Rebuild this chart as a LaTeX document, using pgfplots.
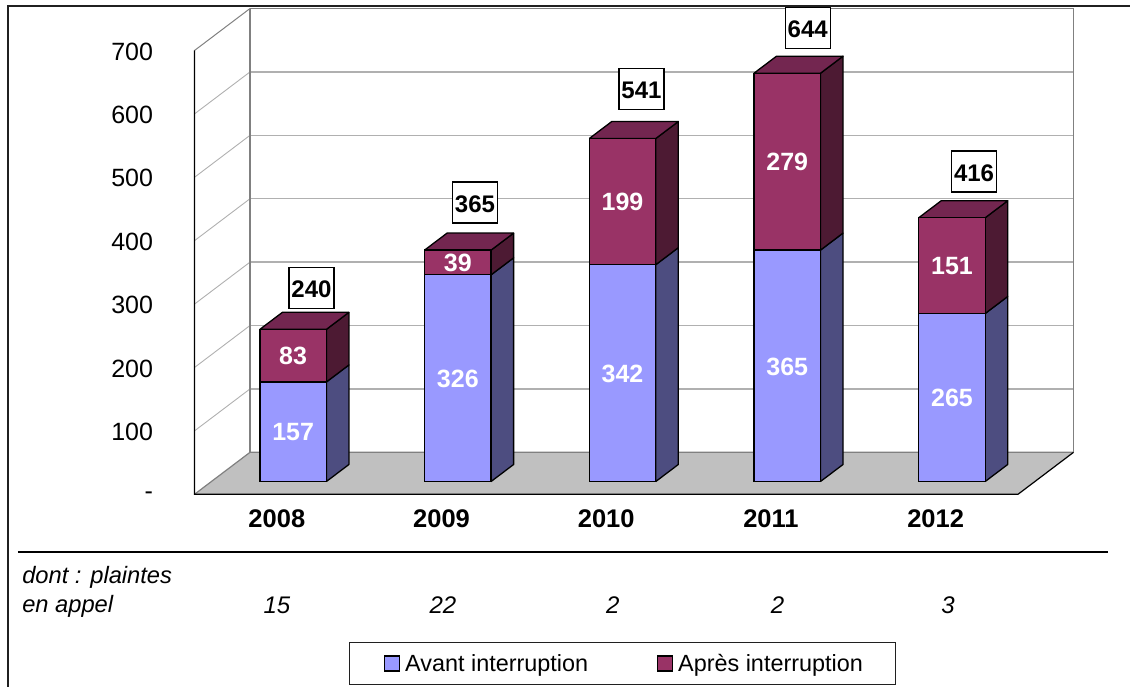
\documentclass[border=0pt]{standalone}
\usepackage{pgfplots}
\pgfplotsset{compat=1.18}
\usepackage{fontspec}
\setmainfont{Liberation Sans}
\definecolor{avant}{HTML}{9999FF}
\definecolor{avantside}{HTML}{4D4D80}
\definecolor{apres}{HTML}{993366}
\definecolor{apresside}{HTML}{4D1A33}
\definecolor{aprestop}{HTML}{732650}
\definecolor{floorgrey}{HTML}{C0C0C0}
\definecolor{wallgrey}{HTML}{B0B0B0}
\definecolor{edgegrey}{HTML}{808080}
\definecolor{framedark}{HTML}{202020}

% Shared geometry of the five-category plane
\pgfplotsset{
  plane/.style={
    scale only axis, width=823.5pt, height=443.8pt,
    xmin=-0.5, xmax=4.5, ymin=0, ymax=700, clip=false,
  },
  face/.style={draw=black, line width=1.3pt, line join=round, fill=#1, mark=none},
  swatch/.style={
    legend image code/.code={
      \path[draw=none, fill=none] (-4pt,0pt) -- (19pt,0pt);
      \draw[draw=black, line width=1.2pt, fill=#1] (0pt,-7.5pt) rectangle (15pt,7.5pt);
    }
  },
}

\begin{document}
\begin{tikzpicture}
\path[use as bounding box] (0pt,0pt) rectangle (1130pt,687pt);

% Walls, floor, outer rules and the row under the chart
\begin{axis}[
  plane, at={(194.5pt,192.7pt)}, anchor=south west,
  axis line style={draw=none}, tick style={draw=none},
  ytick={0,100,200,300,400,500,600,700},
  yticklabels={{-\hspace{30pt}},100,200,300,400,500,600,700},
  yticklabel style={font=\fontsize{25}{28}\selectfont, anchor=east, xshift=-38pt, yshift=-1pt},
  xtick={0,1,2,3,4},
  xticklabels={2008,2009,2010,2011,2012},
  xticklabel style={font=\fontsize{25.5}{28}\bfseries\selectfont, anchor=center, yshift=-24pt},
]
  % frame
  \addplot[framedark, line width=1.2pt, mark=none, forget plot] coordinates {(-1.632,-304) (-1.632,770.2) (5.183,770.2)};
  \addplot[black, line width=1.2pt, mark=none, forget plot] coordinates {(-1.572,-91) (5.047,-91)};
  % floor
  \addplot[fill=floorgrey, draw=none, mark=none, forget plot] coordinates {(-0.5,0) (4.5,0) (4.837,66.2) (-0.163,66.2) (-0.5,0)};
  % horizontal lines on the back wall
  \addplot[wallgrey, line width=1.3pt, mark=none, forget plot] coordinates {(-0.163,166.2) (4.837,166.2)};
  \addplot[wallgrey, line width=1.3pt, mark=none, forget plot] coordinates {(-0.163,266.2) (4.837,266.2)};
  \addplot[wallgrey, line width=1.3pt, mark=none, forget plot] coordinates {(-0.163,366.2) (4.837,366.2)};
  \addplot[wallgrey, line width=1.3pt, mark=none, forget plot] coordinates {(-0.163,466.2) (4.837,466.2)};
  \addplot[wallgrey, line width=1.3pt, mark=none, forget plot] coordinates {(-0.163,566.2) (4.837,566.2)};
  \addplot[wallgrey, line width=1.3pt, mark=none, forget plot] coordinates {(-0.163,666.2) (4.837,666.2)};
  \addplot[edgegrey, line width=1pt, mark=none, forget plot] coordinates {(-0.163,766.2) (4.837,766.2)};
  % slanted lines on the side wall
  \addplot[wallgrey, line width=.9pt, mark=none, forget plot] coordinates {(-0.5,100) (-0.163,166.2)};
  \addplot[wallgrey, line width=.9pt, mark=none, forget plot] coordinates {(-0.5,200) (-0.163,266.2)};
  \addplot[wallgrey, line width=.9pt, mark=none, forget plot] coordinates {(-0.5,300) (-0.163,366.2)};
  \addplot[wallgrey, line width=.9pt, mark=none, forget plot] coordinates {(-0.5,400) (-0.163,466.2)};
  \addplot[wallgrey, line width=.9pt, mark=none, forget plot] coordinates {(-0.5,500) (-0.163,566.2)};
  \addplot[wallgrey, line width=.9pt, mark=none, forget plot] coordinates {(-0.5,600) (-0.163,666.2)};
  \addplot[edgegrey, line width=1pt, mark=none, forget plot] coordinates {(-0.5,700) (-0.163,766.2)};
  % wall and floor edges
  \addplot[edgegrey, line width=1.2pt, mark=none, forget plot] coordinates {(-0.5,0) (-0.163,66.2) (4.837,66.2)};
  \addplot[edgegrey, line width=1.2pt, mark=none, forget plot] coordinates {(-0.163,66.2) (-0.163,766.2)};
  \addplot[edgegrey, line width=1.2pt, mark=none, forget plot] coordinates {(4.837,66.2) (4.837,766.2)};
  \addplot[black, line width=1.2pt, mark=none, forget plot] coordinates {(-0.5,700) (-0.5,0) (4.5,0) (4.837,66.2)};
  % complaints on appeal
  \addplot[draw=none, mark=none, forget plot, nodes near coords, point meta=explicit symbolic,
    every node near coord/.style={anchor=center, font=\fontsize{24}{27}\itshape\selectfont, black}]
    table[meta=label] {
      x y label
      0.0 -174.5 15
      1.008 -174.5 22
      2.04 -174.5 2
      3.04 -174.5 2
      4.075 -174.5 3
    };
  \node[anchor=west, font=\fontsize{23.7}{27}\itshape\selectfont, inner sep=0pt] at (axis cs:-1.547,-130.7) {dont : plaintes};
  \node[anchor=west, font=\fontsize{23.7}{27}\itshape\selectfont, inner sep=0pt] at (axis cs:-1.547,-176) {en appel};
\end{axis}

% Side and top faces of the columns
\begin{axis}[plane, at={(210.8pt,205.5pt)}, anchor=south west, hide axis]
  \addplot[face=avantside] coordinates {(0.2019,0) (0.3385,26.8) (0.3385,183.8) (0.2019,157) (0.2019,0)};
  \addplot[face=apresside] coordinates {(0.2019,157) (0.3385,183.8) (0.3385,266.8) (0.2019,240) (0.2019,157)};
  \addplot[face=aprestop] coordinates {(-0.2019,240) (-0.0653,266.8) (0.3385,266.8) (0.2019,240) (-0.2019,240)};

  \addplot[face=avantside] coordinates {(1.2019,0) (1.3385,26.8) (1.3385,352.8) (1.2019,326) (1.2019,0)};
  \addplot[face=apresside] coordinates {(1.2019,326) (1.3385,352.8) (1.3385,391.8) (1.2019,365) (1.2019,326)};
  \addplot[face=aprestop] coordinates {(0.7981,365) (0.9347,391.8) (1.3385,391.8) (1.2019,365) (0.7981,365)};

  \addplot[face=avantside] coordinates {(2.2019,0) (2.3385,26.8) (2.3385,368.8) (2.2019,342) (2.2019,0)};
  \addplot[face=apresside] coordinates {(2.2019,342) (2.3385,368.8) (2.3385,567.8) (2.2019,541) (2.2019,342)};
  \addplot[face=aprestop] coordinates {(1.7981,541) (1.9347,567.8) (2.3385,567.8) (2.2019,541) (1.7981,541)};

  \addplot[face=avantside] coordinates {(3.2019,0) (3.3385,26.8) (3.3385,391.8) (3.2019,365) (3.2019,0)};
  \addplot[face=apresside] coordinates {(3.2019,365) (3.3385,391.8) (3.3385,670.8) (3.2019,644) (3.2019,365)};
  \addplot[face=aprestop] coordinates {(2.7981,644) (2.9347,670.8) (3.3385,670.8) (3.2019,644) (2.7981,644)};

  \addplot[face=avantside] coordinates {(4.2019,0) (4.3385,26.8) (4.3385,291.8) (4.2019,265) (4.2019,0)};
  \addplot[face=apresside] coordinates {(4.2019,265) (4.3385,291.8) (4.3385,442.8) (4.2019,416) (4.2019,265)};
  \addplot[face=aprestop] coordinates {(3.7981,416) (3.9347,442.8) (4.3385,442.8) (4.2019,416) (3.7981,416)};
\end{axis}

% Front faces: stacked columns and legend
\begin{axis}[
  plane, at={(210.8pt,205.5pt)}, anchor=south west, hide axis,
  ybar stacked, bar width=66.5pt,
  legend columns=2,
  legend cell align=left,
  legend style={
    at={(0.5,-0.41)}, anchor=center,
    draw=framedark, line width=1pt, fill=white,
    font=\fontsize{23.4}{27}\selectfont,
    inner xsep=31pt, inner ysep=9.5pt,
    /tikz/column 2/.style={column sep=63pt},
  },
]
  \addplot[draw=black, line width=1.3pt, fill=avant, swatch=avant] coordinates {(0,157) (1,326) (2,342) (3,365) (4,265)};
  \addlegendentry{Avant interruption}
  \addplot[draw=black, line width=1.3pt, fill=apres, swatch=apres] coordinates {(0,83) (1,39) (2,199) (3,279) (4,151)};
  \addlegendentry{Après interruption}
\end{axis}

% Value labels: parts inside the columns, totals in boxes above
\begin{axis}[plane, at={(210.8pt,205.5pt)}, anchor=south west, hide axis]
  \addplot[draw=none, mark=none, nodes near coords, point meta=explicit symbolic,
    every node near coord/.style={anchor=center, yshift=-0.7pt, text=white, font=\fontsize{25}{28}\bfseries\selectfont}]
    table[meta=label] {
      x y label
      0 78.5 157
      1 163 326
      2 171 342
      3 182.5 365
      4 132.5 265
      0 198.5 83
      1 345.5 39
      2 441.5 199
      3 504.5 279
      4 340.5 151
    };
  \addplot[draw=none, mark=none, nodes near coords, point meta=explicit symbolic,
    every node near coord/.style={anchor=center, draw=black, fill=white, line width=1.3pt,
      minimum width=45pt, minimum height=41pt, inner sep=0pt, text=black,
      text height=23pt, text depth=3.5pt,
      font=\fontsize{24}{27}\bfseries\selectfont}]
    table[meta=label] {
      x y label
      0.111 305.2 240
      1.104 440 365
      2.115 619 541
      3.124 715 644
      4.134 489 416
    };
\end{axis}
\end{tikzpicture}
\end{document}
